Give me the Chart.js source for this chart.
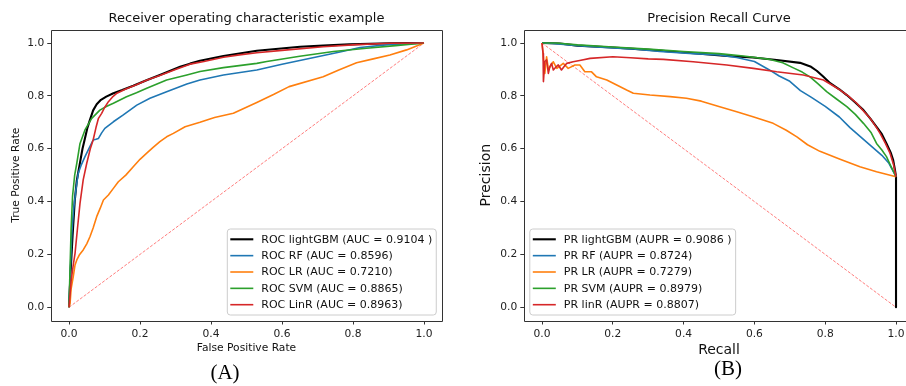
<!DOCTYPE html>
<html><head><meta charset="utf-8">
<script src="https://cdn.jsdelivr.net/npm/chart.js@4.4.0/dist/chart.umd.min.js"></script>
<style>
html,body{margin:0;padding:0;background:#fff;}
body{width:906px;height:386px;overflow:hidden;position:relative;}
#wrapA{position:absolute;left:0;top:0;width:453px;height:360px;}
#wrapB{position:absolute;left:453px;top:0;width:453px;height:360px;overflow:hidden;}
canvas{display:block;}
.cap{position:absolute;font-family:"Liberation Serif","Times New Roman",serif;font-size:21px;color:#000;transform:translate(-50%,-50%);white-space:nowrap;line-height:1;}
</style></head>
<body>
<div id="wrapA"><canvas id="rocChart" width="453" height="360"></canvas></div>
<div id="wrapB"><canvas id="prChart" width="453" height="360"></canvas></div>
<div class="cap" style="left:225px;top:372px">(A)</div>
<div class="cap" style="left:728px;top:368px">(B)</div>
<script>
const tickValues = [0, 0.2, 0.4, 0.6, 0.8, 1.0];
const rocTitle = 'Receiver operating characteristic example';
const prTitle = 'Precision Recall Curve';
const rocXTitle = 'False Positive Rate';
const rocYTitle = 'True Positive Rate';
const prXTitle = 'Recall';
const prYTitle = 'Precision';
const rocLabels = ['ROC lightGBM (AUC = 0.9104 )', 'ROC RF (AUC = 0.8596)', 'ROC LR (AUC = 0.7210)', 'ROC SVM (AUC = 0.8865)', 'ROC LinR (AUC = 0.8963)'];
const prLabels = ['PR lightGBM (AUPR = 0.9086 )', 'PR RF (AUPR = 0.8724)', 'PR LR (AUPR = 0.7279)', 'PR SVM (AUPR = 0.8979)', 'PR linR (AUPR = 0.8807)'];

const rocLgbmFpr = [0, 0.004, 0.01, 0.016, 0.022, 0.03, 0.038, 0.045, 0.052, 0.059, 0.068, 0.078, 0.09, 0.105, 0.125, 0.15, 0.181, 0.22, 0.256, 0.313, 0.341, 0.369, 0.435, 0.529, 0.651, 0.716, 0.79, 0.904, 1];
const rocLgbmTpr = [0, 0.12, 0.27, 0.4, 0.48, 0.54, 0.6, 0.64, 0.68, 0.709, 0.745, 0.768, 0.785, 0.797, 0.81, 0.822, 0.838, 0.86, 0.879, 0.91, 0.922, 0.933, 0.951, 0.971, 0.986, 0.99, 0.995, 0.999, 1];
const rocRfFpr = [0, 0.004, 0.008, 0.013, 0.02, 0.026, 0.035, 0.045, 0.056, 0.068, 0.076, 0.083, 0.092, 0.101, 0.125, 0.153, 0.191, 0.228, 0.275, 0.332, 0.369, 0.435, 0.529, 0.6, 0.7, 0.76, 0.82, 0.9, 1];
const rocRfTpr = [0, 0.15, 0.28, 0.37, 0.45, 0.507, 0.54, 0.57, 0.6, 0.633, 0.636, 0.639, 0.66, 0.677, 0.702, 0.728, 0.765, 0.791, 0.816, 0.845, 0.86, 0.879, 0.898, 0.92, 0.948, 0.965, 0.983, 0.994, 1];
const rocLrFpr = [0, 0.003, 0.006, 0.012, 0.017, 0.022, 0.03, 0.04, 0.05, 0.059, 0.068, 0.078, 0.088, 0.097, 0.111, 0.125, 0.139, 0.16, 0.181, 0.2, 0.219, 0.237, 0.256, 0.275, 0.294, 0.327, 0.369, 0.41, 0.463, 0.529, 0.576, 0.62, 0.716, 0.76, 0.81, 0.857, 0.904, 0.951, 1];
const rocLrTpr = [0, 0.015, 0.07, 0.116, 0.16, 0.179, 0.2, 0.217, 0.24, 0.267, 0.3, 0.343, 0.375, 0.406, 0.425, 0.45, 0.475, 0.5, 0.532, 0.56, 0.583, 0.605, 0.627, 0.645, 0.658, 0.683, 0.7, 0.718, 0.734, 0.775, 0.805, 0.835, 0.872, 0.898, 0.925, 0.94, 0.955, 0.974, 1];
const rocSvmFpr = [0, 0.003, 0.006, 0.01, 0.016, 0.022, 0.031, 0.045, 0.064, 0.087, 0.105, 0.125, 0.162, 0.19, 0.219, 0.275, 0.332, 0.369, 0.435, 0.529, 0.557, 0.65, 0.745, 0.838, 0.92, 1];
const rocSvmTpr = [0, 0.15, 0.3, 0.42, 0.5, 0.545, 0.62, 0.671, 0.715, 0.746, 0.76, 0.772, 0.797, 0.812, 0.829, 0.86, 0.879, 0.892, 0.907, 0.923, 0.93, 0.95, 0.968, 0.98, 0.99, 1];
const rocLinrFpr = [0, 0.006, 0.012, 0.017, 0.024, 0.031, 0.04, 0.05, 0.06, 0.068, 0.076, 0.083, 0.092, 0.1, 0.111, 0.122, 0.135, 0.16, 0.19, 0.22, 0.256, 0.3, 0.341, 0.38, 0.435, 0.48, 0.529, 0.6, 0.716, 0.81, 0.904, 1];
const rocLinrTpr = [0, 0.1, 0.16, 0.204, 0.3, 0.393, 0.482, 0.545, 0.6, 0.633, 0.68, 0.715, 0.734, 0.755, 0.778, 0.795, 0.81, 0.826, 0.842, 0.86, 0.877, 0.9, 0.92, 0.93, 0.946, 0.955, 0.963, 0.972, 0.986, 0.994, 0.999, 1];
const rocChanceX = [0, 1];
const rocChanceY = [0, 1];

const prLgbmRec = [0, 0.05, 0.1, 0.2, 0.314, 0.42, 0.522, 0.596, 0.663, 0.729, 0.76, 0.776, 0.795, 0.814, 0.84, 0.861, 0.885, 0.908, 0.927, 0.945, 0.96, 0.973, 0.985, 0.992, 0.997, 1, 1];
const prLgbmPrec = [1, 0.998, 0.99, 0.983, 0.973, 0.962, 0.951, 0.945, 0.936, 0.925, 0.91, 0.895, 0.872, 0.848, 0.825, 0.803, 0.775, 0.746, 0.715, 0.683, 0.655, 0.62, 0.585, 0.557, 0.52, 0.494, 0];
const prRfRec = [0, 0.03, 0.1, 0.154, 0.25, 0.333, 0.427, 0.5, 0.55, 0.6, 0.64, 0.67, 0.7, 0.73, 0.76, 0.8, 0.84, 0.87, 0.9, 0.93, 0.96, 0.98, 1];
const prRfPrec = [1, 0.998, 0.99, 0.985, 0.978, 0.968, 0.96, 0.955, 0.945, 0.93, 0.9, 0.875, 0.855, 0.82, 0.795, 0.76, 0.72, 0.68, 0.645, 0.61, 0.575, 0.545, 0.494];
const prLrRec = [0, 0.003, 0.008, 0.013, 0.018, 0.023, 0.032, 0.042, 0.06, 0.074, 0.093, 0.107, 0.121, 0.14, 0.154, 0.183, 0.211, 0.239, 0.258, 0.305, 0.362, 0.408, 0.45, 0.502, 0.55, 0.596, 0.653, 0.69, 0.72, 0.75, 0.785, 0.842, 0.898, 0.945, 1];
const prLrPrec = [1, 0.96, 0.885, 0.948, 0.9, 0.91, 0.929, 0.904, 0.923, 0.904, 0.917, 0.917, 0.891, 0.891, 0.872, 0.86, 0.841, 0.822, 0.81, 0.803, 0.797, 0.791, 0.78, 0.759, 0.74, 0.721, 0.696, 0.67, 0.645, 0.615, 0.59, 0.56, 0.532, 0.513, 0.494];
const prSvmRec = [0, 0.04, 0.1, 0.2, 0.3, 0.4, 0.5, 0.569, 0.644, 0.68, 0.71, 0.735, 0.757, 0.78, 0.804, 0.83, 0.861, 0.885, 0.908, 0.93, 0.945, 0.96, 0.973, 0.987, 1];
const prSvmPrec = [1, 1.0, 0.993, 0.985, 0.977, 0.968, 0.96, 0.951, 0.938, 0.925, 0.906, 0.89, 0.872, 0.845, 0.816, 0.79, 0.759, 0.73, 0.696, 0.66, 0.62, 0.595, 0.57, 0.53, 0.494];
const prLinrRec = [0, 0.003, 0.004, 0.008, 0.013, 0.018, 0.022, 0.027, 0.032, 0.04, 0.046, 0.055, 0.062, 0.07, 0.088, 0.11, 0.136, 0.2, 0.25, 0.3, 0.343, 0.427, 0.522, 0.597, 0.663, 0.738, 0.795, 0.82, 0.842, 0.865, 0.889, 0.91, 0.927, 0.945, 0.955, 0.97, 0.983, 0.993, 1];
const prLinrPrec = [1, 0.96, 0.854, 0.93, 0.936, 0.885, 0.91, 0.923, 0.898, 0.91, 0.917, 0.898, 0.91, 0.923, 0.929, 0.935, 0.942, 0.948, 0.944, 0.94, 0.938, 0.929, 0.917, 0.904, 0.891, 0.879, 0.86, 0.84, 0.822, 0.8, 0.772, 0.74, 0.715, 0.68, 0.658, 0.62, 0.583, 0.54, 0.494];
const prChanceX = [0, 1];
const prChanceY = [1, 0];

const FONT = '"DejaVu Sans", "Liberation Sans", sans-serif';
const palette = ['#000000', '#1f77b4', '#ff7f0e', '#2ca02c', '#d62728'];
const lineWidths = [2.1, 1.6, 1.6, 1.6, 1.6];
const chanceColor = 'rgba(255, 70, 70, 0.7)';
const AXIS_MIN = -0.05, AXIS_MAX = 1.05;
Chart.defaults.font.family = FONT;

function zip(xs, ys) { return xs.map((x, i) => ({ x: x, y: ys[i] })); }

function makeDatasets(xsList, ysList, labels, chanceX, chanceY) {
  const ds = labels.map((label, i) => ({
    label: label, data: zip(xsList[i], ysList[i]),
    borderColor: palette[i], backgroundColor: palette[i], borderWidth: lineWidths[i],
    pointRadius: 0, pointHoverRadius: 0, showLine: true, fill: false, tension: 0,
    borderJoinStyle: 'round', borderCapStyle: 'butt', legendIndex: i
  }));
  const chance = {
    label: '', data: zip(chanceX, chanceY), borderColor: chanceColor, backgroundColor: chanceColor,
    borderWidth: 1, borderDash: [3, 1.6], pointRadius: 0, pointHoverRadius: 0, showLine: true, fill: false,
    legendIndex: -1
  };
  // last dataset is painted first: chance line lowest
  return ds.reverse().concat([chance]);
}

const spinePlugin = {
  id: 'spines',
  afterDatasetsDraw(chart, args, opts) {
    const { ctx, chartArea: a } = chart;
    ctx.save();
    ctx.strokeStyle = '#333';
    ctx.lineWidth = 1;
    const l = Math.round(a.left) + 0.5, t = Math.round(a.top) + 0.5;
    const r = Math.round(a.right) + 0.5, b = Math.round(a.bottom) + 0.5;
    ctx.beginPath();
    if (opts.drawRight) {
      ctx.rect(l, t, r - l, b - t);
    } else {
      ctx.moveTo(r + 2, t); ctx.lineTo(l, t); ctx.lineTo(l, b); ctx.lineTo(r + 2, b);
    }
    ctx.stroke();
    ctx.restore();
  }
};

// Panel title and x-axis title, centred on the full axis range (-0.05 .. 1.05)
const panelTextPlugin = {
  id: 'panelText',
  afterDraw(chart, args, opts) {
    const { ctx } = chart;
    const xs = chart.scales.x;
    const cx = (xs.getPixelForValue(AXIS_MIN) + xs.getPixelForValue(AXIS_MAX)) / 2;
    ctx.save();
    ctx.fillStyle = '#111';
    ctx.textAlign = 'center';
    ctx.textBaseline = 'middle';
    ctx.font = '13px ' + FONT;
    ctx.fillText(opts.title, cx, opts.titleY);
    ctx.font = opts.xTitleSize + 'px ' + FONT;
    ctx.fillText(opts.xTitle, cx, opts.xTitleY);
    ctx.restore();
  }
};

const boxLegendPlugin = {
  id: 'boxLegend',
  afterDraw(chart, args, opts) {
    const { ctx, chartArea: a } = chart;
    const items = chart.data.datasets.filter(d => d.legendIndex >= 0).sort((p, q) => p.legendIndex - q.legendIndex);
    ctx.save();
    ctx.font = '11px ' + FONT;
    const textW = Math.max.apply(null, items.map(it => ctx.measureText(it.label).width));
    const rowH = 16.35, padV = 10.3;
    const w = 34 + textW + 4;
    const h = padV * 2 + rowH * (items.length - 1);
    const x = opts.corner === 'right' ? a.right - 5.5 - w : a.left + 5.5;
    const y = a.bottom - 5.5 - h;
    const r = 3;
    ctx.beginPath();
    ctx.moveTo(x + r, y);
    ctx.lineTo(x + w - r, y); ctx.quadraticCurveTo(x + w, y, x + w, y + r);
    ctx.lineTo(x + w, y + h - r); ctx.quadraticCurveTo(x + w, y + h, x + w - r, y + h);
    ctx.lineTo(x + r, y + h); ctx.quadraticCurveTo(x, y + h, x, y + h - r);
    ctx.lineTo(x, y + r); ctx.quadraticCurveTo(x, y, x + r, y);
    ctx.closePath();
    ctx.fillStyle = 'rgba(255,255,255,0.8)';
    ctx.fill();
    ctx.strokeStyle = '#cccccc';
    ctx.lineWidth = 1;
    ctx.stroke();
    items.forEach((it, i) => {
      const cy = y + padV + i * rowH;
      ctx.beginPath();
      ctx.strokeStyle = it.borderColor;
      ctx.lineWidth = it.borderWidth;
      ctx.moveTo(x + 3, cy); ctx.lineTo(x + 26, cy);
      ctx.stroke();
      ctx.fillStyle = '#111';
      ctx.textBaseline = 'middle';
      ctx.textAlign = 'left';
      ctx.fillText(it.label, x + 34, cy + 0.5);
    });
    ctx.restore();
  }
};

function axisCfg(cfg, isX) {
  return {
    type: 'linear', min: AXIS_MIN, max: isX ? cfg.xMax : AXIS_MAX,
    afterFit: isX
      ? (s) => { s.height = 39.5; s.paddingLeft = 0; s.paddingRight = 0; }
      : (s) => { s.width = cfg.yWidth; s.paddingTop = 0; s.paddingBottom = 0; },
    afterBuildTicks: (s) => { s.ticks = tickValues.map(v => ({ value: v })); },
    ticks: {
      callback: (v) => Number(v).toFixed(1), autoSkip: false, maxRotation: 0, minRotation: 0,
      padding: 3, font: { size: 10.7 }, color: '#222'
    },
    grid: { display: true, drawOnChartArea: false, drawTicks: true, tickLength: 4, color: '#333', lineWidth: 1 },
    border: { display: false },
    title: isX ? { display: false } : {
      display: true, text: cfg.yTitle,
      font: { size: cfg.axisTitleSize }, color: '#111',
      padding: { top: cfg.yTitlePadTop, bottom: 0 }
    }
  };
}

function makeChart(canvasId, cfg) {
  return new Chart(document.getElementById(canvasId), {
    type: 'scatter',
    data: { datasets: cfg.datasets },
    options: {
      responsive: false, animation: false, devicePixelRatio: 1, events: [],
      layout: { padding: { left: 0, right: cfg.padRight, top: 29.8, bottom: 0 } },
      plugins: {
        legend: { display: false }, tooltip: { enabled: false }, title: { display: false },
        boxLegend: { corner: cfg.legendCorner },
        spines: { drawRight: cfg.drawRight },
        panelText: { title: cfg.title, titleY: 18.5, xTitle: cfg.xTitle, xTitleSize: cfg.axisTitleSize, xTitleY: cfg.xTitleY }
      },
      scales: { x: axisCfg(cfg, true), y: axisCfg(cfg, false) }
    },
    plugins: [spinePlugin, panelTextPlugin, boxLegendPlugin]
  });
}

makeChart('rocChart', {
  datasets: makeDatasets([rocLgbmFpr, rocRfFpr, rocLrFpr, rocSvmFpr, rocLinrFpr], [rocLgbmTpr, rocRfTpr, rocLrTpr, rocSvmTpr, rocLinrTpr], rocLabels, rocChanceX, rocChanceY),
  title: rocTitle, xTitle: rocXTitle, yTitle: rocYTitle, xMax: AXIS_MAX,
  yWidth: 51.25, padRight: 11.25, axisTitleSize: 10.7, xTitleY: 348,
  yTitlePadTop: 9.8, legendCorner: 'right', drawRight: true
});

// The right panel is cut by the picture edge: its visible x range ends near 1.028
makeChart('prChart', {
  datasets: makeDatasets([prLgbmRec, prRfRec, prLrRec, prSvmRec, prLinrRec], [prLgbmPrec, prRfPrec, prLrPrec, prSvmPrec, prLinrPrec], prLabels, prChanceX, prChanceY),
  title: prTitle, xTitle: prXTitle, yTitle: prYTitle, xMax: 1.0282,
  yWidth: 71.3, padRight: 0, axisTitleSize: 14, xTitleY: 350,
  yTitlePadTop: 24.9, legendCorner: 'left', drawRight: false
});
</script>
</body></html>
